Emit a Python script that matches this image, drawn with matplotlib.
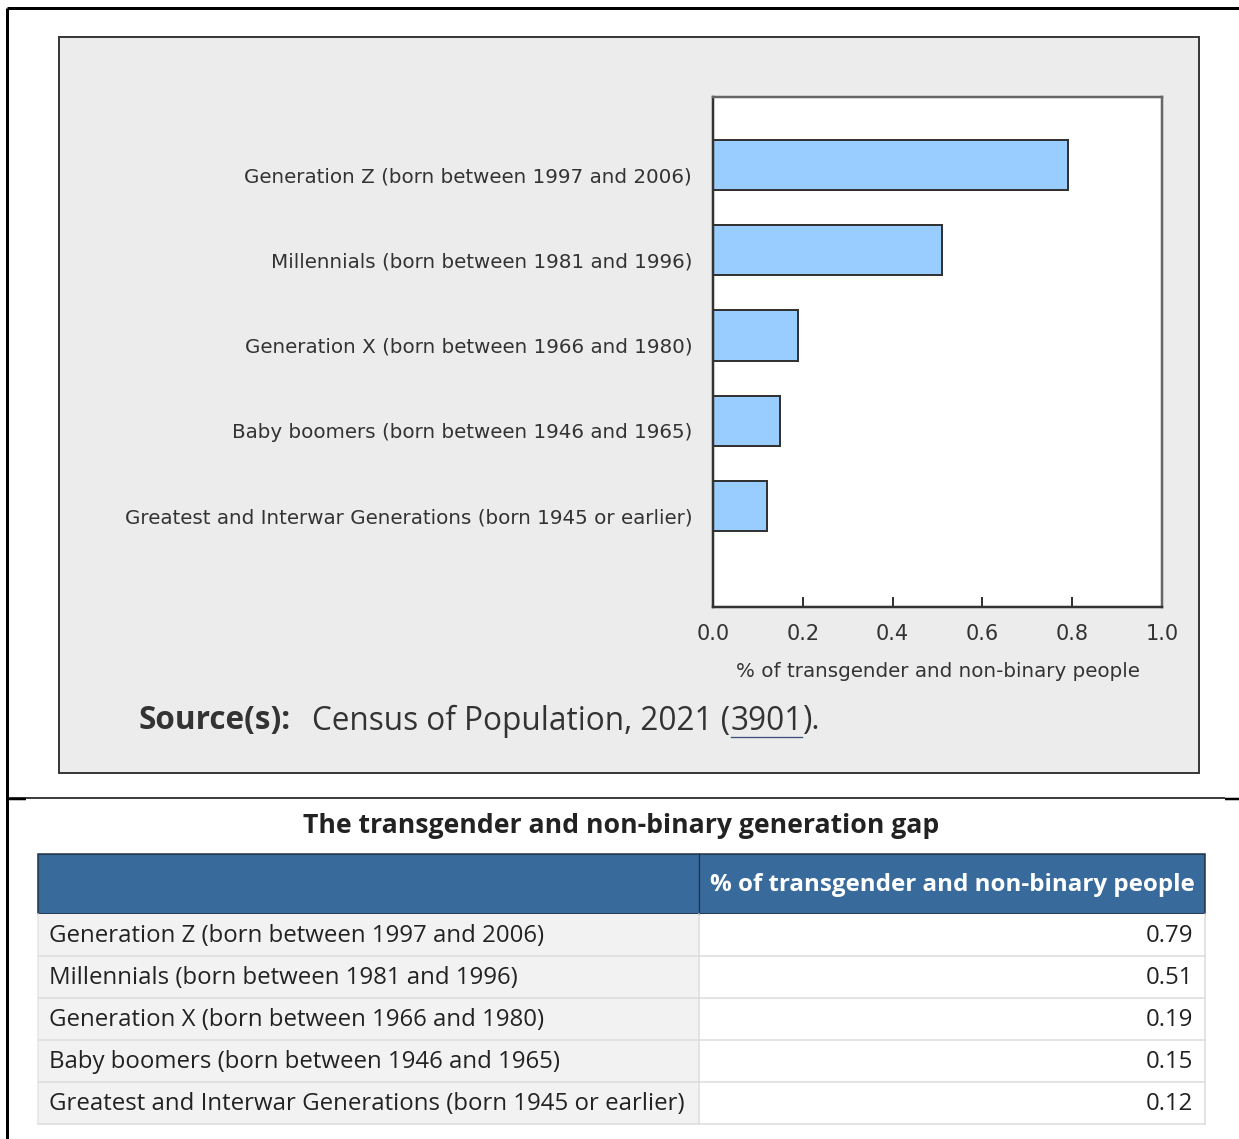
import matplotlib
matplotlib.use('Agg')
import matplotlib.pyplot as plt
from matplotlib.patches import Rectangle

# Census of Population 2021: share of transgender and non-binary people by generation
generations = [
    'Generation Z (born between 1997 and 2006)',
    'Millennials (born between 1981 and 1996)',
    'Generation X (born between 1966 and 1980)',
    'Baby boomers (born between 1946 and 1965)',
    'Greatest and Interwar Generations (born 1945 or earlier)',
]
share = [0.79, 0.51, 0.19, 0.15, 0.12]
x_ticks = [0.0, 0.2, 0.4, 0.6, 0.8, 1.0]

measure_label = '% of transgender and non-binary people'
table_title = 'The transgender and non-binary generation gap'

W, H = 1239, 1139
DPI = 100
PT = 72 / DPI  # points per pixel

TEXT = '#333333'
PANEL = '#ececec'
BAR = '#99ccff'
HEADER = '#396a9c'

fig = plt.figure(figsize=(W / DPI, H / DPI), dpi=DPI)

# page-level canvas in pixel coordinates (y grows downward)
page = fig.add_axes([0, 0, 1, 1])
page.set_xlim(0, W)
page.set_ylim(H, 0)
page.axis('off')

# outer frame
page.plot([7, W], [8, 8], color='black', lw=3 * PT, solid_capstyle='butt')
page.plot([7, 7], [8, H], color='black', lw=3 * PT, solid_capstyle='butt')
page.plot([7, 1225], [798, 798], color='black', lw=1.5 * PT, solid_capstyle='butt')
page.plot([7, 26], [799, 799], color='black', lw=2.5 * PT, solid_capstyle='butt')
page.plot([1225, W], [799, 799], color='black', lw=2.5 * PT, solid_capstyle='butt')

# grey chart panel
page.add_patch(Rectangle((59, 37), 1140, 736, facecolor=PANEL,
                         edgecolor='#3a3a3a', lw=2 * PT))

# bar chart
ax = fig.add_axes([713 / W, 1 - 607 / H, 449 / W, 510 / H])
ax.set_facecolor('white')
ypos = list(range(len(generations)))
ax.barh(ypos, share, height=50 / 85, color=BAR, edgecolor='#333333',
        linewidth=2 * PT)
ax.set_xlim(0, 1.0)
ax.set_ylim(4 + 101 / 85, -68 / 85)
# category labels sit a little below the bar centres
ax.set_yticks([y + 10 / 85 for y in ypos])
ax.set_yticklabels(generations, family='DejaVu Sans', fontsize=14.3, color=TEXT)
ax.set_xticks(x_ticks)
ax.set_xticklabels([f'{t:.1f}' for t in x_ticks], family='DejaVu Sans',
                   fontsize=15, color=TEXT)
ax.tick_params(axis='y', length=0, pad=15)
ax.tick_params(axis='x', direction='in', length=7, width=2 * PT,
               color='#333333', pad=12)
ax.set_xlabel(measure_label, family='DejaVu Sans', fontsize=14.3, color=TEXT,
              labelpad=13)
for name, sp in ax.spines.items():
    sp.set_linewidth(2.5 * PT)
    sp.set_color('#666666' if name in ('top', 'right') else '#333333')

# source line, pieces chained left to right
renderer = fig.canvas.get_renderer()
inv = page.transData.inverted()


def put(x, text, **kw):
    t = page.text(x, 721, text, fontsize=22.7, family='Open Sans', color=TEXT,
                  va='center', ha='left', **kw)
    bb = t.get_window_extent(renderer)
    return t, inv.transform((bb.x1, bb.y0))[0]


_, x = put(138, 'Source(s):', fontweight='bold')
_, x = put(x + 22, 'Census of Population, 2021 (')
x_link = x
_, x = put(x, '3901')
page.plot([x_link + 1, x - 1], [737, 737], color='#3c4f7a', lw=1.3 * PT)
put(x, ').')

# data table
page.text(621, 826, table_title, fontsize=19.2, fontweight='bold',
          family='Open Sans', color='#222222', ha='center', va='center')

tx0, tx1, tdiv = 38, 1205, 699
page.add_patch(Rectangle((tx0, 854), tx1 - tx0, 60, facecolor=HEADER,
                         edgecolor='#1e2e40', lw=1.5 * PT))
page.plot([tdiv, tdiv], [854, 914], color='#1e2e40', lw=1.2 * PT)
page.text(710, 885, measure_label, fontsize=17.4, fontweight='bold',
          family='Open Sans', color='white', ha='left', va='center')

row_top = 914
row_h = 42
for i, (name, val) in enumerate(zip(generations, share)):
    y0 = row_top + i * row_h
    page.add_patch(Rectangle((tx0, y0), tdiv - tx0, row_h, facecolor='#f2f2f2',
                             edgecolor='none'))
    page.add_patch(Rectangle((tdiv, y0), tx1 - tdiv, row_h, facecolor='white',
                             edgecolor='none'))
    page.plot([tx0, tx1], [y0 + row_h, y0 + row_h], color='#dcdcdc', lw=1.5 * PT)
    page.text(49, y0 + 22.5, name, fontsize=17.3, family='Open Sans',
              color='#222222', ha='left', va='center')
    page.text(1193, y0 + 22.5, f'{val:.2f}', fontsize=17.3, family='Open Sans',
              color='#222222', ha='right', va='center')
page.plot([tdiv, tdiv], [row_top, row_top + 5 * row_h], color='#dcdcdc', lw=1.5 * PT)
page.plot([tx1, tx1], [row_top, row_top + 5 * row_h], color='#dcdcdc', lw=1.5 * PT)
page.plot([tx0, tx0], [row_top, row_top + 5 * row_h], color='#e6e6e6', lw=1.5 * PT)

fig.savefig('out.png', dpi=DPI)
